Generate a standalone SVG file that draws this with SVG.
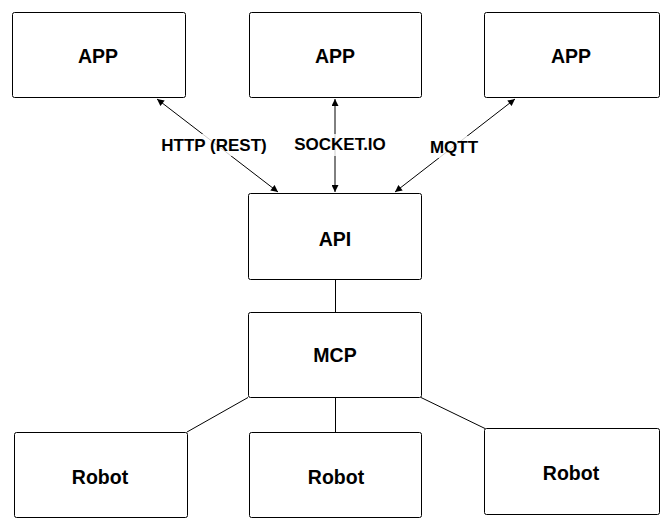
<svg xmlns="http://www.w3.org/2000/svg" width="670" height="531" viewBox="0 0 670 531">
<defs>
<marker id="ah" viewBox="0 0 10 10" refX="10" refY="5" markerWidth="9" markerHeight="7" markerUnits="userSpaceOnUse" orient="auto-start-reverse">
<path d="M0,0 L10,5 L0,10 z" fill="#000"/>
</marker>
<style>
.box{fill:#fff;stroke:#000;stroke-width:1}
.t{font-family:"Liberation Sans",Arial,sans-serif;font-weight:bold;font-size:19.5px;fill:#000;text-anchor:middle}
.lbl{font-family:"Liberation Sans",Arial,sans-serif;font-weight:bold;font-size:17px;fill:#000;text-anchor:middle}
.c{stroke:#000;stroke-width:1;fill:none}
.lb{fill:#fff;opacity:0.8}
</style>
</defs>
<rect width="670" height="531" fill="#fff"/>
<g id="connectors">
<line class="c" x1="157" y1="99" x2="278" y2="192" marker-start="url(#ah)" marker-end="url(#ah)"/>
<line class="c" x1="335" y1="99" x2="335" y2="192" marker-start="url(#ah)" marker-end="url(#ah)"/>
<line class="c" x1="515" y1="99" x2="395" y2="192" marker-start="url(#ah)" marker-end="url(#ah)"/>
<line class="c" x1="335.5" y1="280" x2="335.5" y2="312"/>
<line class="c" x1="248" y1="397.5" x2="187" y2="432"/>
<line class="c" x1="335.5" y1="397.5" x2="335.5" y2="432"/>
<line class="c" x1="421" y1="397.5" x2="485" y2="428.5"/>
<rect class="lb" x="160" y="134" width="108" height="22"/>
<rect class="lb" x="292" y="134" width="96" height="22"/>
<rect class="lb" x="427" y="136" width="54" height="22"/>
<text class="lbl" x="214" y="151">HTTP (REST)</text>
<text class="lbl" x="340" y="150">SOCKET.IO</text>
<text class="lbl" x="454" y="153">MQTT</text>
</g>
<g id="app1"><rect class="box" x="12.5" y="12.5" width="173" height="85" rx="2"/><text class="t" x="98" y="63">APP</text></g>
<g id="app2"><rect class="box" x="249.5" y="12.5" width="172" height="85" rx="2"/><text class="t" x="335" y="63">APP</text></g>
<g id="app3"><rect class="box" x="484.5" y="12.5" width="175" height="85" rx="2"/><text class="t" x="571" y="63">APP</text></g>
<g id="api"><rect class="box" x="248.5" y="193.5" width="173" height="86" rx="2"/><text class="t" x="335" y="246">API</text></g>
<g id="mcp"><rect class="box" x="248.5" y="312.5" width="173" height="85" rx="2"/><text class="t" x="335" y="362">MCP</text></g>
<g id="robot1"><rect class="box" x="14.5" y="432.5" width="173" height="85" rx="2"/><text class="t" x="100" y="484">Robot</text></g>
<g id="robot2"><rect class="box" x="249.5" y="432.5" width="172" height="85" rx="2"/><text class="t" x="336" y="484">Robot</text></g>
<g id="robot3"><rect class="box" x="484.5" y="428.5" width="175" height="86" rx="2"/><text class="t" x="571" y="480">Robot</text></g>
</svg>
